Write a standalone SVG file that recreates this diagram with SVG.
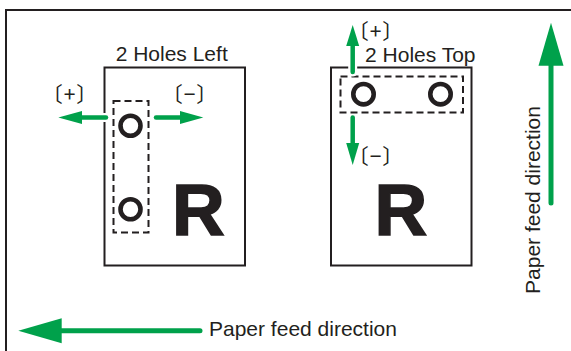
<svg xmlns="http://www.w3.org/2000/svg" width="571" height="351" viewBox="0 0 571 351">
<style>
.line{fill:none;stroke:#231f20;stroke-width:2}
.dash{fill:none;stroke:#231f20;stroke-width:2;stroke-dasharray:7 4}
.hole{fill:none;stroke:#231f20;stroke-width:4.6}
.lbl{font-family:"Liberation Sans",Arial,sans-serif;font-size:21px;fill:#231f20}
.br{font-family:"Noto Sans CJK JP","Liberation Sans",sans-serif;font-size:21px;letter-spacing:1px;fill:#231f20}
.big{font-family:"Liberation Sans",Arial,sans-serif;font-size:73px;font-weight:bold;fill:#231f20;stroke:#231f20;stroke-width:1.6}
.halo{fill:#fff;stroke:#fff;stroke-width:3;stroke-linejoin:round}
.halol{stroke:#fff;stroke-width:9;stroke-linecap:round}
.shaft{stroke:#00a14b;stroke-width:4.5;stroke-linecap:round}
.bshaft{stroke:#00a14b;stroke-width:5;stroke-linecap:round}
.head{fill:#00a14b}
</style>
<rect x="0" y="0" width="571" height="351" fill="#fff"/>
<g id="frame">
<rect class="line" x="6" y="10" width="620" height="400"/>
</g>
<g id="page-left">
<rect class="line" x="104.5" y="67.5" width="140.5" height="198"/>
<text class="lbl" x="171.7" y="61" text-anchor="middle">2 Holes Left</text>
<rect class="dash" x="113.5" y="101" width="35" height="131.5"/>
<circle class="hole" cx="130.5" cy="125.8" r="10"/>
<circle class="hole" cx="130.5" cy="209.2" r="10"/>
<text class="big" x="198.3" y="235" text-anchor="middle">R</text>
<text class="br" x="70" y="102" text-anchor="middle">〔+〕</text>
<text class="br" x="190" y="102" text-anchor="middle">〔−〕</text>
</g>
<g id="page-right">
<rect class="line" x="331" y="67.5" width="140.5" height="198"/>
<text class="lbl" x="420.3" y="61.7" text-anchor="middle">2 Holes Top</text>
<rect class="dash" x="340.5" y="76.5" width="122.5" height="36"/>
<circle class="hole" cx="363.5" cy="94.2" r="10.2"/>
<circle class="hole" cx="440.5" cy="94.2" r="10.2"/>
<text class="big" x="400.8" y="235" text-anchor="middle">R</text>
<text class="br" x="376" y="38.5" text-anchor="middle">〔+〕</text>
<text class="br" x="376" y="164" text-anchor="middle">〔−〕</text>
</g>
<g id="feed-labels">
<text class="lbl" x="209" y="336">Paper feed direction</text>
<text class="lbl" transform="translate(540,200) rotate(-90)" text-anchor="middle">Paper feed direction</text>
</g>
<g id="connectors">
<line class="halol" x1="106" y1="117.5" x2="80" y2="117.5"/>
<polygon class="halo" points="58.3,117.5 82,111 82,124"/>
<line class="shaft" x1="106" y1="117.5" x2="80" y2="117.5"/>
<polygon class="head" points="58.3,117.5 82,111 82,124"/>
<line class="shaft" x1="156" y1="117.5" x2="182" y2="117.5"/>
<polygon class="head" points="203.3,117.5 180,111 180,124"/>
<line class="halol" x1="352.7" y1="72" x2="352.7" y2="46"/>
<polygon class="halo" points="352.7,25 346.2,46 359.2,46"/>
<line class="shaft" x1="352.7" y1="72" x2="352.7" y2="46"/>
<polygon class="head" points="352.7,25 346.2,46 359.2,46"/>
<line class="shaft" x1="352.7" y1="117.5" x2="352.7" y2="145"/>
<polygon class="head" points="352.7,165 346.2,143 359.2,143"/>
<line class="bshaft" x1="551" y1="203" x2="551" y2="64"/>
<polygon class="head" points="551,22.7 538.5,65.7 563.5,65.7"/>
<line class="bshaft" x1="200" y1="330.7" x2="60" y2="330.7"/>
<polygon class="head" points="18.3,330.7 61.7,318.2 61.7,343.2"/>
</g>
</svg>
